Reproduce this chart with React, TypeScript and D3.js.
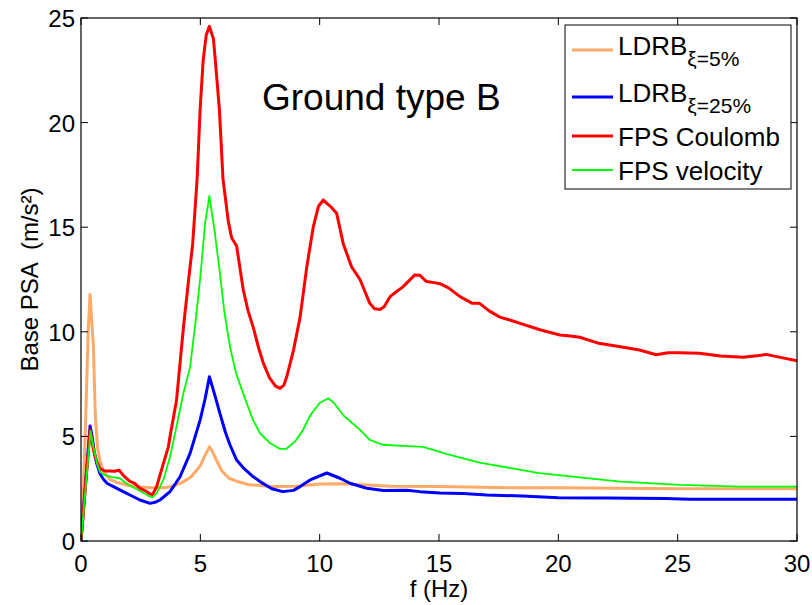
import React from "react";
import * as d3 from "d3";

const xTicks = [0, 5, 10, 15, 20, 25, 30];
const yTicks = [0, 5, 10, 15, 20, 25];

// LDRB xi=5% [f, PSA]
const ldrb5: [number, number][] = [
  [0, 0], [0.1, 2.5], [0.2, 6], [0.3, 10], [0.38, 11.8], [0.45, 10.5], [0.52, 9.3], [0.6, 6], [0.7, 4.4],
  [0.8, 3.8], [0.95, 3.3], [1.2, 2.95], [1.5, 2.8], [2, 2.65], [2.5, 2.58], [3, 2.55], [3.5, 2.55],
  [3.8, 2.6], [4.2, 2.78], [4.6, 3.05], [5.0, 3.6], [5.2, 4.1], [5.38, 4.5], [5.5, 4.3], [5.7, 3.8],
  [5.9, 3.35], [6.2, 3.0], [6.6, 2.83], [7, 2.7], [8, 2.6], [9, 2.62], [10, 2.72], [11, 2.74],
  [12, 2.68], [13, 2.62], [15, 2.6], [18, 2.55], [20, 2.55], [25, 2.5], [30, 2.5],
];

// LDRB xi=25%
const ldrb25: [number, number][] = [
  [0, 0], [0.38, 5.5], [0.45, 5.1], [0.55, 4.3], [0.66, 3.7], [0.8, 3.2], [0.94, 2.95], [1.1, 2.75],
  [1.36, 2.6], [1.77, 2.36], [2.05, 2.2], [2.47, 1.96], [2.89, 1.8], [3.1, 1.85], [3.31, 1.96],
  [3.73, 2.36], [4.15, 3.07], [4.57, 4.19], [4.99, 5.78], [5.2, 6.8], [5.38, 7.85], [5.6, 7.0],
  [5.82, 6.1], [6.05, 5.2], [6.24, 4.6], [6.52, 3.87], [6.8, 3.5], [7.22, 3.07], [7.5, 2.84],
  [8.0, 2.5], [8.45, 2.36], [8.9, 2.42], [9.18, 2.6], [9.6, 2.92], [10.3, 3.25], [10.85, 3.0],
  [11.27, 2.76], [11.97, 2.52], [12.67, 2.41], [13.65, 2.43], [14.2, 2.36], [15.04, 2.3], [16, 2.27],
  [17, 2.2], [18.5, 2.15], [20, 2.07], [22, 2.05], [24.5, 2.03], [25.5, 2.0], [30, 2.0],
];

// FPS Coulomb
const fpsCoulomb: [number, number][] = [
  [0, 0], [0.38, 5.3], [0.5, 4.5], [0.6, 4.0], [0.7, 3.7], [0.8, 3.45], [1.0, 3.35], [1.2, 3.35],
  [1.4, 3.33], [1.6, 3.38], [1.8, 3.1], [2.05, 2.85], [2.25, 2.75], [2.47, 2.52], [2.7, 2.4],
  [2.89, 2.25], [3.0, 2.22], [3.17, 2.6], [3.45, 3.7], [3.66, 4.5], [3.73, 5.0], [4.0, 6.7],
  [4.1, 7.9], [4.3, 10.3], [4.5, 12.4], [4.68, 14.2], [4.87, 17.4], [4.99, 20.6], [5.12, 23.0],
  [5.25, 24.2], [5.38, 24.6], [5.55, 24.0], [5.7, 22], [5.8, 20.6], [5.95, 17.3], [6.17, 15.3],
  [6.31, 14.5], [6.52, 14.1], [6.8, 12.0], [7.0, 11.0], [7.22, 10.2], [7.45, 9.2], [7.64, 8.5],
  [7.9, 7.8], [8.15, 7.4], [8.34, 7.3], [8.5, 7.45], [8.62, 7.85], [8.9, 9.1], [9.18, 10.7],
  [9.46, 13.1], [9.73, 15.0], [9.95, 16.0], [10.15, 16.3], [10.45, 16.0], [10.71, 15.67],
  [10.99, 14.2], [11.34, 13.1], [11.69, 12.5], [12.1, 11.36], [12.3, 11.1], [12.53, 11.07],
  [12.7, 11.2], [12.95, 11.68], [13.2, 11.9], [13.5, 12.16], [13.99, 12.72], [14.2, 12.7],
  [14.48, 12.4], [14.8, 12.35], [15.04, 12.3], [15.4, 12.1], [15.88, 11.68], [16.4, 11.36],
  [16.7, 11.36], [17.1, 11.0], [17.55, 10.7], [18.0, 10.55], [18.4, 10.4], [19.23, 10.1],
  [20.07, 9.85], [20.5, 9.8], [20.9, 9.74], [21.7, 9.45], [22.6, 9.29], [23.4, 9.13], [24.1, 8.9],
  [24.6, 9.0], [25.1, 9.0], [25.9, 8.97], [26.8, 8.84], [27.75, 8.78], [28.3, 8.85], [28.7, 8.92],
  [29.2, 8.8], [30, 8.62],
];

// FPS velocity
const fpsVelocity: [number, number][] = [
  [0, 0], [0.4, 5.25], [0.5, 4.6], [0.6, 4.1], [0.7, 3.6], [0.8, 3.3], [1.0, 3.15], [1.3, 3.05],
  [1.63, 3.0], [1.85, 2.8], [2.05, 2.65], [2.47, 2.39], [2.7, 2.25], [2.89, 2.12], [3.0, 2.1],
  [3.17, 2.28], [3.45, 2.92], [3.73, 4.03], [4.0, 5.46], [4.29, 7.06], [4.57, 8.3], [4.8, 10.5],
  [4.99, 12.5], [5.2, 15.2], [5.38, 16.5], [5.6, 14.8], [5.82, 12.8], [6.0, 11.0], [6.24, 9.3],
  [6.5, 8.0], [6.94, 6.6], [7.2, 5.8], [7.5, 5.15], [7.9, 4.7], [8.34, 4.4], [8.6, 4.4], [9.0, 4.8],
  [9.3, 5.3], [9.6, 6.0], [10.0, 6.6], [10.36, 6.82], [10.6, 6.6], [11.0, 6.0], [11.7, 5.3],
  [12.1, 4.83], [12.65, 4.6], [13.5, 4.55], [14.33, 4.5], [15.0, 4.27], [15.3, 4.16], [16.7, 3.75],
  [19.2, 3.24], [22.6, 2.84], [25.1, 2.68], [27.6, 2.6], [30, 2.6],
];

const W = 812;
const H = 605;
const left = 81;
const right = 797;
const top = 18;
const bottom = 541;
const FONT = "'Liberation Sans', Arial, sans-serif";

export default function App() {
  const x = d3.scaleLinear().domain([0, 30]).range([left, right]);
  const y = d3.scaleLinear().domain([0, 25]).range([bottom, top]);
  const line = d3
    .line<[number, number]>()
    .x((d) => x(d[0]))
    .y((d) => y(d[1]));

  const series = [
    { data: ldrb5, color: "#FFAA66", width: 3 },
    { data: ldrb25, color: "#0000FF", width: 3 },
    { data: fpsCoulomb, color: "#FF0000", width: 3 },
    { data: fpsVelocity, color: "#00FF00", width: 1.8 },
  ];

  const tickLen = 7;
  const lx0 = 572;
  const lx1 = 613;
  const tx = 618;

  return (
    <svg
      width={W}
      height={H}
      style={{ position: "absolute", left: 0, top: 0, background: "#fff" }}
      fontFamily={FONT}
    >
      <rect x={0} y={0} width={W} height={H} fill="#fff" />
      <defs>
        <clipPath id="plotclip">
          <rect x={left} y={top} width={right - left} height={bottom - top} />
        </clipPath>
      </defs>
      <g clipPath="url(#plotclip)">
        {series.map((s, i) => (
          <path
            key={i}
            d={line(s.data) || ""}
            fill="none"
            stroke={s.color}
            strokeWidth={s.width}
            strokeLinejoin="round"
          />
        ))}
      </g>
      {/* axes box */}
      <rect x={left} y={top} width={right - left} height={bottom - top} fill="none" stroke="#000" strokeWidth={1.2} />
      {xTicks.map((t) => (
        <g key={"xt" + t}>
          <line x1={x(t)} x2={x(t)} y1={bottom} y2={bottom - tickLen} stroke="#000" strokeWidth={1} />
          <line x1={x(t)} x2={x(t)} y1={top} y2={top + tickLen} stroke="#000" strokeWidth={1} />
          <text x={x(t)} y={572} fontSize={24} textAnchor="middle" fill="#000">
            {t}
          </text>
        </g>
      ))}
      {yTicks.map((t) => (
        <g key={"yt" + t}>
          <line x1={left} x2={left + tickLen} y1={y(t)} y2={y(t)} stroke="#000" strokeWidth={1} />
          <line x1={right} x2={right - tickLen} y1={y(t)} y2={y(t)} stroke="#000" strokeWidth={1} />
          <text x={75} y={y(t) + 9} fontSize={24} textAnchor="end" fill="#000">
            {t}
          </text>
        </g>
      ))}
      <text x={(left + right) / 2} y={597} fontSize={24} textAnchor="middle" fill="#000">
        f (Hz)
      </text>
      <text
        transform={`translate(38,${(top + bottom) / 2}) rotate(-90)`}
        fontSize={24}
        textAnchor="middle"
        fill="#000"
        style={{ whiteSpace: "pre" }}
      >
        {"Base PSA  (m/s²)"}
      </text>
      <text x={262} y={110} fontSize={37} fill="#000">
        Ground type B
      </text>
      {/* legend */}
      <rect x={565} y={25} width={226} height={164} fill="#fff" stroke="#000" strokeWidth={1} />
      <line x1={lx0} x2={lx1} y1={50} y2={50} stroke="#FFAA66" strokeWidth={3} />
      <text x={tx} y={55} fontSize={26} fill="#000">
        LDRB
        <tspan dy={11} fontSize={21}>ξ=5%</tspan>
      </text>
      <line x1={lx0} x2={lx1} y1={97} y2={97} stroke="#0000FF" strokeWidth={3} />
      <text x={tx} y={102} fontSize={26} fill="#000">
        LDRB
        <tspan dy={11} fontSize={21}>ξ=25%</tspan>
      </text>
      <line x1={lx0} x2={lx1} y1={136} y2={136} stroke="#FF0000" strokeWidth={3} />
      <text x={tx} y={146} fontSize={26} fill="#000">
        FPS Coulomb
      </text>
      <line x1={lx0} x2={lx1} y1={170} y2={170} stroke="#00FF00" strokeWidth={2} />
      <text x={tx} y={180} fontSize={26} fill="#000">
        FPS velocity
      </text>
    </svg>
  );
}
